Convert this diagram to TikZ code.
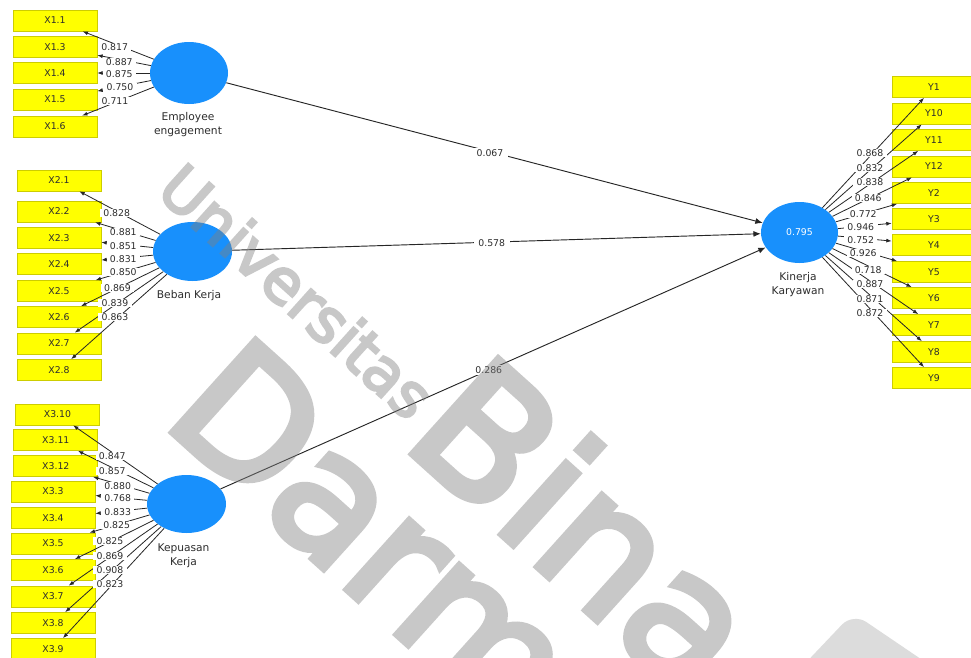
\documentclass[tikz,border=0pt]{standalone}
\usepackage{fontspec}
\setmainfont{DejaVu Sans}
\newfontfamily\wmfont[FakeBold=4]{DejaVu Sans}
\usetikzlibrary{shapes.geometric,arrows.meta}
\definecolor{boxfill}{RGB}{255,255,0}
\definecolor{boxline}{RGB}{205,205,0}
\definecolor{latent}{RGB}{24,144,252}
\definecolor{wm}{RGB}{128,128,128}
\definecolor{wmlight}{RGB}{220,220,220}
\definecolor{txt}{RGB}{45,45,45}
\begin{document}
\begin{tikzpicture}[x=0.75pt,y=-0.75pt,
  ind/.style={draw=boxline, fill=boxfill, line width=0.5pt, minimum width=63pt, minimum height=15.75pt, inner sep=0pt, font=\fontsize{7}{8}\selectfont, text=txt},
  lat/.style={ellipse, fill=latent, inner sep=0pt},
  lbl/.style={font=\fontsize{8}{10.5}\selectfont, text=txt, align=center, inner sep=0pt},
  load/.style={fill=white, inner xsep=2.5pt, inner ysep=0.3pt, font=\fontsize{7}{8}\selectfont, text=txt},
  coef/.style={fill=white, inner xsep=3.5pt, inner ysep=1pt, font=\fontsize{7}{8}\selectfont, text=txt},
  lnk/.style={draw=black!85, line width=0.6pt, -{Latex[length=4pt,width=3pt]}},
  struct/.style={draw=black!85, line width=0.7pt, -{Latex[length=5.5pt,width=4.5pt]}},
  wmtext/.style={text=wm, rotate=-42, inner sep=0pt}
]
\useasboundingbox (0,0) rectangle (971,657);
\clip (0,0) rectangle (971,657);
\fill[white] (0,0) rectangle (971,657);
\fill[wmlight, rounded corners=12pt] (797,672) -- (853,613) -- (940,672) -- cycle;

% latent variables
\node[lat, minimum width=58.5pt, minimum height=46.5pt] (EE) at (189,73) {};
\node[lat, minimum width=59.25pt, minimum height=44.25pt] (BK) at (192.5,251.5) {};
\node[lat, minimum width=59.25pt, minimum height=43.5pt] (KK) at (186.5,504) {};
\node[lat, minimum width=57.75pt, minimum height=45.75pt, text=white, font=\fontsize{7}{8}\selectfont] (KiK) at (799.5,232.5) {0.795};

\node[lbl] (tEE) at (188,125) {Employee\\engagement};
\node[lbl] (tBK) at (189,296) {Beban Kerja};
\node[lbl] (tKK) at (183.5,556) {Kepuasan\\Kerja};
\node[lbl] (tKiK) at (798,284.5) {Kinerja\\Karyawan};

% indicators X1
\node[ind] (X11) at (55,20.5) {X1.1};
\node[ind] (X13) at (55,47) {X1.3};
\node[ind] (X14) at (55,73) {X1.4};
\node[ind] (X15) at (55,99.5) {X1.5};
\node[ind] (X16) at (55,126.5) {X1.6};
% indicators X2
\node[ind] (X21) at (59,180.5) {X2.1};
\node[ind] (X22) at (59,211.5) {X2.2};
\node[ind] (X23) at (59,238) {X2.3};
\node[ind] (X24) at (59,264) {X2.4};
\node[ind] (X25) at (59,291) {X2.5};
\node[ind] (X26) at (59,317) {X2.6};
\node[ind] (X27) at (59,343.5) {X2.7};
\node[ind] (X28) at (59,370) {X2.8};
% indicators X3
\node[ind] (X310) at (57.5,414.5) {X3.10};
\node[ind] (X311) at (55.8,440) {X3.11};
\node[ind] (X312) at (55.8,466) {X3.12};
\node[ind] (X33) at (53,491.5) {X3.3};
\node[ind] (X34) at (53,518) {X3.4};
\node[ind] (X35) at (53,543.5) {X3.5};
\node[ind] (X36) at (53,570) {X3.6};
\node[ind] (X37) at (53,596.5) {X3.7};
\node[ind] (X38) at (53,623) {X3.8};
\node[ind] (X39) at (53,649) {X3.9};
% indicators Y
\node[ind] (Y1) at (934,87) {Y1};
\node[ind] (Y10) at (934,113.5) {Y10};
\node[ind] (Y11) at (934,140) {Y11};
\node[ind] (Y12) at (934,166.5) {Y12};
\node[ind] (Y2) at (934,193) {Y2};
\node[ind] (Y3) at (934,219) {Y3};
\node[ind] (Y4) at (934,245) {Y4};
\node[ind] (Y5) at (934,272) {Y5};
\node[ind] (Y6) at (934,298) {Y6};
\node[ind] (Y7) at (934,325) {Y7};
\node[ind] (Y8) at (934,352) {Y8};
\node[ind] (Y9) at (934,378) {Y9};

% loading connectors
\foreach \b in {X11,X13,X14,X15,X16} \draw[lnk] (EE) -- (\b);
\foreach \b in {X21,X22,X23,X24,X25,X26,X27,X28} \draw[lnk] (BK) -- (\b);
\foreach \b in {X310,X311,X312,X33,X34,X35,X36,X37,X38,X39} \draw[lnk] (KK) -- (\b);
\foreach \b in {Y1,Y10,Y11,Y12,Y2,Y3,Y4,Y5,Y6,Y7,Y8,Y9} \draw[lnk] (KiK) -- (\b);

% structural paths
\draw[struct] (EE) -- (KiK);
\draw[struct] (BK) -- (KiK);
\draw[struct] (KK) -- (KiK);
\node[coef] (p1) at (490,153.3) {0.067};
\node[coef] (p2) at (491.7,243.3) {0.578};
\node[coef] (p3) at (488.8,370) {0.286};

% loadings X1
\node[load] (l11) at (114.7,46.7) {0.817};
\node[load] (l13) at (119.3,61.7) {0.887};
\node[load] (l14) at (119.3,74) {0.875};
\node[load] (l15) at (120,87.3) {0.750};
\node[load] (l16) at (115,101) {0.711};
% loadings X2
\node[load] (l21) at (116.7,213.3) {0.828};
\node[load] (l22) at (123.3,232.3) {0.881};
\node[load] (l23) at (123.3,246) {0.851};
\node[load] (l24) at (123.3,259) {0.831};
\node[load] (l25) at (123.3,272.3) {0.850};
\node[load] (l26) at (117.5,287.7) {0.869};
\node[load] (l27) at (115,302.7) {0.839};
\node[load] (l28) at (115,316.7) {0.863};
% loadings X3
\node[load] (l310) at (112.3,456) {0.847};
\node[load] (l311) at (112.3,471) {0.857};
\node[load] (l312) at (117.7,485.7) {0.880};
\node[load] (l33) at (117.7,498.3) {0.768};
\node[load] (l34) at (117.7,511.7) {0.833};
\node[load] (l35) at (116.7,525) {0.825};
\node[load] (l36) at (110,540.7) {0.825};
\node[load] (l37) at (110,555.7) {0.869};
\node[load] (l38) at (110,570) {0.908};
\node[load] (l39) at (110,584.3) {0.823};
% loadings Y
\node[load] (m1) at (870,152.7) {0.868};
\node[load] (m10) at (870,168.3) {0.832};
\node[load] (m11) at (870,182.3) {0.838};
\node[load] (m12) at (868.3,197.7) {0.846};
\node[load] (m2) at (863.3,214.3) {0.772};
\node[load] (m3) at (860.8,226.7) {0.946};
\node[load] (m4) at (860.7,240) {0.752};
\node[load] (m5) at (863.3,253.3) {0.926};
\node[load] (m6) at (868.3,270) {0.718};
\node[load] (m7) at (870,284) {0.887};
\node[load] (m8) at (870,299.3) {0.871};
\node[load] (m9) at (870,313.3) {0.872};

% watermark (translucent, over the diagram)
\begin{scope}[transparency group, opacity=0.43]
\node[wmtext, font=\wmfont\fontsize{46}{46}\selectfont] (wm1) at (297,291) {Universitas};
\node[wmtext, font=\wmfont\fontsize{132}{132}\selectfont] (wm2) at (588,524) {Bina};
\node[wmtext, font=\wmfont\fontsize{128}{128}\selectfont] (wm3) at (414,568) {Darma};
\end{scope}
\end{tikzpicture}
\end{document}
